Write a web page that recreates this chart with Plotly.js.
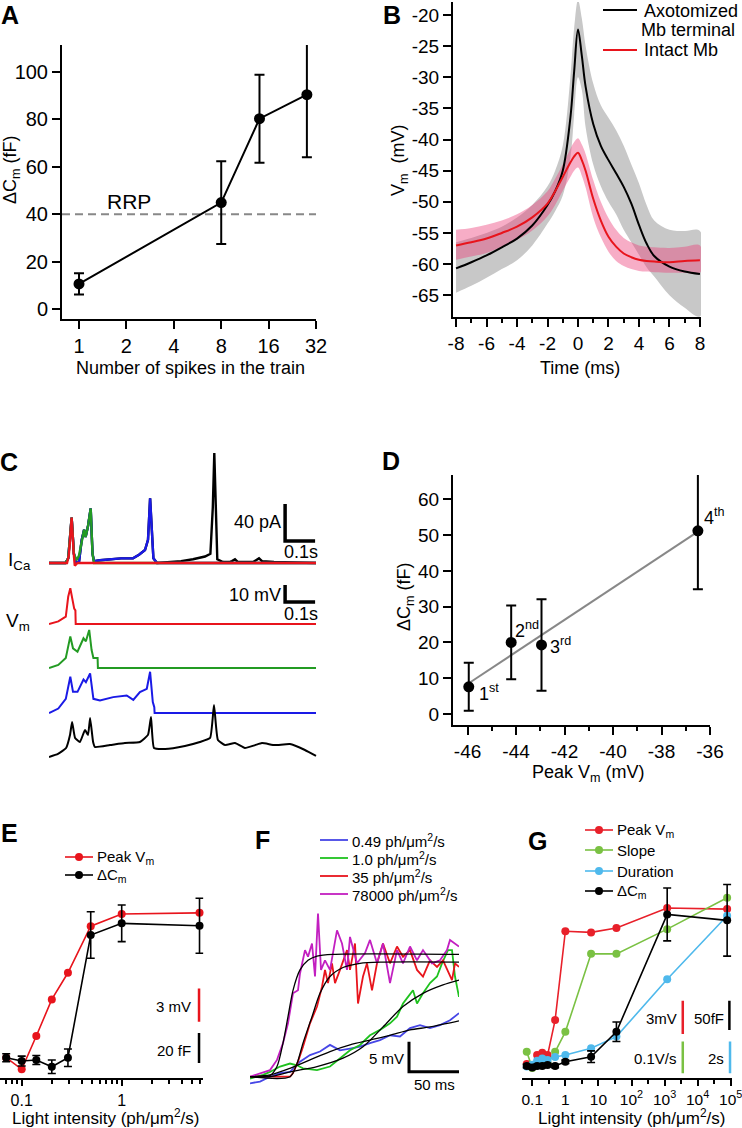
<!DOCTYPE html>
<html><head><meta charset="utf-8">
<script src="https://cdn.plot.ly/plotly-3.0.1.min.js"></script>
<style>html,body{margin:0;padding:0;background:#fff}#chart{width:742px;height:1128px}</style>
</head><body><div id="chart"></div>
<script>
// ================= DATA =================
// Panel A
const aSpikes = [1, 8, 14, 28];
const aDeltaCm = [10.7, 44.9, 80.2, 90.3];
const aDeltaCmErr = [4.5, 17.4, 18.5, 26.3];
const aRRP = 40;
const aTickVals = [1, 2, 4, 8, 16, 32];
const aTickText = ['1', '2', '4', '8', '16', '32'];
const aYTicks = [0, 20, 40, 60, 80, 100];

// Panel B (ms, mV)
const bTime = [-8,-7,-6,-5,-4,-3,-2,-1.5,-1,-0.5,-0.25,0,0.25,0.5,1,1.5,2,2.5,3,3.5,4,4.5,5,6,7,8];
const bAxoMean = [-60.7,-59.7,-58.6,-57.3,-55.9,-53.8,-50.5,-48.3,-45,-36.5,-29,-22.3,-26.5,-31.5,-37.5,-41,-43.3,-45.4,-47.6,-50.3,-53.7,-56.7,-58.7,-60.4,-61.2,-61.6];
const bAxoUpper = [-56.5,-55.8,-55,-54,-52.5,-50.5,-47.5,-45,-41,-30,-22,-17.6,-20.5,-25,-31,-34.5,-36.5,-38.5,-41,-44,-47,-50.5,-53,-54.5,-54.7,-54.7];
const bAxoLower = [-64.6,-63.5,-62.2,-60.8,-59.4,-57,-53.5,-51.5,-49,-43,-36,-30,-32,-38,-44,-47.5,-50,-52,-54.5,-56.5,-58.5,-60.5,-62,-65,-67,-68.4];
const bIntMean = [-57,-56.5,-55.9,-55,-54,-52.5,-50.3,-48.3,-46,-43.7,-42.7,-42.1,-43.3,-45,-49.5,-53,-55.6,-57.2,-58.3,-58.9,-59.3,-59.5,-59.6,-59.7,-59.5,-59.4];
const bIntUpper = [-54.5,-54.2,-53.7,-53,-52,-50.5,-48.3,-46.3,-44,-41.5,-40.4,-39.8,-40.8,-42.3,-46.5,-50,-52.6,-54.5,-55.8,-56.5,-57,-57.2,-57.3,-57.4,-57.2,-57];
const bIntLower = [-59.3,-58.8,-58.2,-57.2,-56.1,-54.6,-52.3,-50.5,-48.2,-46,-45,-44.5,-45.8,-47.7,-52.5,-55.7,-58,-59.5,-60.3,-60.8,-61.1,-61.2,-61.3,-61.4,-61.4,-61.4];
const bXTicks = [-8,-6,-4,-2,0,2,4,6,8];
const bXTickText = ['-8','-6','-4','-2','0','2','4','6','8'];
const bYTicks = [-65,-60,-55,-50,-45,-40,-35,-30,-25,-20];
const bYTickText = ['-65','-60','-55','-50','-45','-40','-35','-30','-25','-20'];

// Panel C (s, pA) calcium currents
const cIcaBlackT = [0,0.055,0.064,0.0755,0.083,0.09,0.1,0.109,0.117,0.122,0.13,0.139,0.145,0.15,0.17,0.24,0.28,0.3,0.32,0.33,0.337,0.342,0.348,0.36,0.44,0.48,0.52,0.538,0.546,0.551,0.556,0.561,0.58,0.6,0.61,0.62,0.63,0.68,0.69,0.7,0.71,0.75,0.89];
const cIcaBlack  = [0,0,5,49,10,0,1,25,36,28,40,59,10,2,3,5,5,9,14,25,70,40,5,0,2,4,7,10,60,119,50,4,1,1,2,4,1,1,3,5,2,1,0];
const cIcaBlueT = [0,0.055,0.064,0.0755,0.083,0.09,0.1,0.109,0.117,0.122,0.13,0.139,0.145,0.15,0.17,0.24,0.28,0.3,0.32,0.33,0.337,0.342,0.348,0.36,0.89];
const cIcaBlue  = [0,0,5,49,10,0,1,25,36,28,40,59,10,2,3,5,5,9,14,25,70,40,5,0,0];
const cIcaGreenT = [0,0.055,0.064,0.0755,0.083,0.092,0.1,0.109,0.117,0.122,0.13,0.139,0.145,0.15,0.89];
const cIcaGreen  = [0,0,5,49,10,3,8,25,36,28,40,59,10,0,0];
const cIcaRedT = [0,0.06,0.066,0.0755,0.082,0.086,0.095,0.89];
const cIcaRed  = [0,0,8,49,12,-3,0,0];
// Panel C (s, mV relative to trace start) voltage waveforms
const cVmRedT = [0,0.031,0.056,0.064,0.071,0.079,0.084,0.088,0.089,0.89];
const cVmRed  = [0,1.5,4.3,16,21,12,9,8,0,0];
const cVmGreenT = [0,0.031,0.056,0.071,0.08,0.095,0.115,0.123,0.134,0.142,0.148,0.162,0.163,0.89];
const cVmGreen  = [0,1.8,5.9,18.6,11.6,9.6,17.5,15.7,22.4,10.6,5.9,5.9,0,0];
const cVmBlueT = [0,0.031,0.056,0.071,0.08,0.095,0.115,0.123,0.137,0.148,0.17,0.214,0.259,0.281,0.303,0.326,0.337,0.346,0.351,0.352,0.89];
const cVmBlue  = [0,2.7,8.4,21.4,12.5,12.5,19.8,18.2,23.3,8.4,7.5,9.4,10.4,7.8,12.4,14.3,24.3,6.5,3.5,0,0];
const cVmBlackT = [0,0.03,0.057,0.07,0.077,0.087,0.103,0.12,0.13,0.137,0.147,0.153,0.203,0.253,0.303,0.33,0.34,0.35,0.387,0.453,0.503,0.537,0.55,0.563,0.587,0.62,0.653,0.687,0.71,0.753,0.803,0.853,0.89];
const cVmBlack  = [0,1.8,5.3,12.9,20.6,11.2,8.8,15.9,12.9,23,8.8,5.9,7,8.2,8.8,13,23.5,5.3,4.7,6.5,8.8,11.2,30.6,10,7,8.2,5.3,7,8.2,7,7.6,4.1,0.6];

// Panel D
const dPeakVm = [-45.95, -44.2, -42.95, -36.5];
const dDeltaCm = [7.6, 20.0, 19.3, 51.2];
const dDeltaCmErr = [6.7, 10.3, 12.8, 16.3];
const dLabels = ['1<sup>st</sup>', '2<sup>nd</sup>', '3<sup>rd</sup>', '4<sup>th</sup>'];
const dXTicks = [-46,-44,-42,-40,-38,-36];
const dXTickText = ['-46','-44','-42','-40','-38','-36'];
const dYTicks = [0,10,20,30,40,50,60];

// Panel E (light intensity ph/um2/s)
const eLight = [0.07, 0.1, 0.14, 0.2, 0.29, 0.49, 1.0, 6.0];
const ePeakVm = [1.05, 0, 3.0, 6.3, 8.7, 12.9, 14.0, 14.1];          // mV (relative)
const eDeltaCm = [11.5, 9.3, 10, 5.5, 11.5, 93.3, 101.1, 99.5];       // fF
const eDeltaCmErr = [2.7, 3.3, 3, 4.5, 5.8, 15.5, 12.2, 18.3];

// Panel F (ms, mV relative)
const fBlueT = [0,10,20,30,40,50,60,70,80,90,100,110,120,130,140,150,160,170,180,190,200,209];
const fBlue  = [-1.1,-0.8,0,0.6,0.8,2.5,3.6,4.2,5.3,4.4,4.7,5,5.6,6.1,6.9,6.7,8.1,8.6,8.1,8.6,9.4,10.6];
const fGreenT = [0,13,20,30,40,47,53,67,80,90,100,110,120,130,140,147,153,158,163,167,173,180,187,192,198,202,205,209];
const fGreen  = [-0.3,0.3,0.8,1.7,2.2,1.9,1.4,1.1,1.7,3.1,4.4,5.3,6.9,7.8,8.9,10,12.2,13.3,14.4,12.2,13.9,15.6,16.7,18.9,21.1,21.1,16.7,13.3];
const fRedT = [0,40,43,48,53,60,67,72,75,78,82,85,90,97,100,105,108,113,117,122,127,133,140,147,153,160,167,173,180,187,193,202,205,209];
const fRed  = [0,0,0.6,2.5,5,8.9,11.7,15,17.8,15.6,18.9,15.6,17.8,21.1,17.8,22.2,12.2,16.7,18.9,14.4,18.9,22.2,18.9,21.7,20,21.1,17.8,16.7,19.4,18.3,19.4,16.1,18.9,18.3];
const fMagT = [0,20,27,33,38,43,48,50,55,58,62,65,68,71,75,80,87,92,97,100,107,115,120,127,133,140,147,153,160,167,173,182,190,197,200,205,209];
const fMag  = [0,1.1,2.8,5.6,8.9,13.9,14.4,17.2,21.1,20,22.2,16.7,27.2,17.8,19.4,17.8,24.4,22.2,17.8,23.3,18.9,20.6,22.8,18.9,22.2,15.6,21.1,18.9,21.7,19.4,21.1,18.9,19.4,21.1,22.8,22.2,21.7];
const fBlueFitT = [0,20,40,60,80,100,120,140,160,180,209];
const fBlueFit  = [0,0.3,1.4,2.8,4.2,5.3,6.1,6.9,7.8,8.3,9.3];
const fGreenFitT = [0,20,40,67,93,113,133,153,173,193,209];
const fGreenFit  = [0,0,0.8,1.7,3.1,5,8.3,11.7,13.9,15.3,16.1];
const fRedFitT = [0,40,47,53,62,70,80,93,110,133,209];
const fRedFit  = [0,0,2.2,5.6,10,13.9,16.7,18.2,18.9,19.1,19.1];
const fMagFitT = [0,20,27,33,38,43,50,58,67,83,209];
const fMagFit  = [0,0.2,1.7,5.6,10,14.4,17.8,19.4,20.1,20.4,20.4];
const fLegend = ['0.49 ph/μm<sup>2</sup>/s', '1.0 ph/μm<sup>2</sup>/s', '35 ph/μm<sup>2</sup>/s', '78000 ph/μm<sup>2</sup>/s'];

// Panel G
const gLight = [0.068, 0.1, 0.14, 0.2, 0.29, 0.49, 1.0, 6.0, 35, 1200, 78000];
const gPeakVm = [0.25, 0, 1.05, 1.26, 1.05, 4.2, 12.2, 12.1, 12.5, 14.3, 14.2];      // mV
const gSlope = [0.051, 0, 0.015, 0.015, 0.015, 0.051, 0.114, 0.36, 0.36, 0.438, 0.537]; // V/s
const gDuration = [0.1, 0.2, 0.45, 0.6, 0.5, 0.7, 0.82, 1.24, 1.98, 5.6, 9.6];      // s
const gDeltaCm = [6.8, 4.5, 6.8, 6.8, 8.5, 6.8, 14.2, 22.7, 65.2, 265, 255];        // fF
const gDeltaCmErr = [3, 3, 3, 3, 3, 3, 3, 10, 16.5, 45, 61];
const gTickVals = [0.1, 1, 10, 100, 1000, 10000, 100000];
const gTickText = ['0.1', '1', '10', '10<sup>2</sup>', '10<sup>3</sup>', '10<sup>4</sup>', '10<sup>5</sup>'];

// ================= LAYOUT HELPERS =================
const W = 742, H = 1128;
const FONT = 'Liberation Sans, Arial, Helvetica, sans-serif';
const X = (a, b) => [a / W, b / W];
const Y = (top, bot) => [1 - bot / H, 1 - top / H];
const px = x => x / W, py = y => 1 - y / H;
const RED = '#e8141c', BLACK = '#000';

const axBase = (size) => ({
  showgrid: false, zeroline: false, showline: true, linecolor: '#000', linewidth: 2,
  ticks: 'outside', tickcolor: '#000', tickwidth: 2, ticklen: 8, ticklabeloverflow: 'allow',
  tickfont: {family: FONT, size: size, color: '#000'}, fixedrange: true
});
const hid = (extra) => Object.assign({visible: false, fixedrange: true, showgrid: false, zeroline: false}, extra);

const traces = [];
const lin = (x, y, xa, ya, color, width, extra) => Object.assign({
  type: 'scatter', mode: 'lines', x: x, y: y, xaxis: xa, yaxis: ya,
  line: {color: color, width: width}, hoverinfo: 'skip'
}, extra || {});

// ---- A
traces.push({type: 'scatter', x: aSpikes, y: aDeltaCm, xaxis: 'x', yaxis: 'y', mode: 'lines+markers',
  line: {color: BLACK, width: 2}, marker: {color: BLACK, size: 11}, cliponaxis: false,
  error_y: {type: 'data', array: aDeltaCmErr, visible: true, color: BLACK, thickness: 2, width: 5}});

// ---- B
const band = (t, up, lo) => ({x: t.concat(t.slice().reverse()), y: up.concat(lo.slice().reverse())});
const gb = band(bTime, bAxoUpper, bAxoLower);
traces.push(lin(gb.x, gb.y, 'x2', 'y2', 'rgba(0,0,0,0)', 0, {fill: 'toself', fillcolor: 'rgb(200,200,200)', line: {width: 0, shape: 'spline'}}));
const pb = band(bTime, bIntUpper, bIntLower);
traces.push(lin(pb.x, pb.y, 'x2', 'y2', 'rgba(0,0,0,0)', 0, {fill: 'toself', fillcolor: 'rgba(236,60,120,0.42)', line: {width: 0, shape: 'spline'}}));
traces.push(lin(bTime, bAxoMean, 'x2', 'y2', BLACK, 2, {line: {color: BLACK, width: 2, shape: 'spline'}}));
traces.push(lin(bTime, bIntMean, 'x2', 'y2', RED, 2, {line: {color: RED, width: 2, shape: 'spline'}}));

// ---- C
const C_BLUE = '#1a1ae6', C_GREEN = '#239b23';
traces.push(lin(cIcaBlackT, cIcaBlack, 'x3', 'y3', BLACK, 2.4));
traces.push(lin(cIcaBlueT, cIcaBlue, 'x3', 'y3', C_BLUE, 2.4));
traces.push(lin(cIcaGreenT, cIcaGreen, 'x3', 'y3', C_GREEN, 2.4));
traces.push(lin(cIcaRedT, cIcaRed, 'x3', 'y3', RED, 2.4));
const vmStack = [0, -25.9, -52.4, -78.2];  // vertical stacking offsets (layout)
const shift = (arr, o) => arr.map(v => v + o);
traces.push(lin(cVmRedT, shift(cVmRed, vmStack[0]), 'x4', 'y4', RED, 2));
traces.push(lin(cVmGreenT, shift(cVmGreen, vmStack[1]), 'x4', 'y4', C_GREEN, 2));
traces.push(lin(cVmBlueT, shift(cVmBlue, vmStack[2]), 'x4', 'y4', C_BLUE, 2));
traces.push(lin(cVmBlackT, shift(cVmBlack, vmStack[3]), 'x4', 'y4', BLACK, 2, {line: {color: BLACK, width: 2, shape: 'spline', smoothing: 0.4}}));

// ---- D (least-squares line through the points)
const n = dPeakVm.length;
const mx = dPeakVm.reduce((s, v) => s + v, 0) / n, my = dDeltaCm.reduce((s, v) => s + v, 0) / n;
let sxy = 0, sxx = 0;
for (let i = 0; i < n; i++) { sxy += (dPeakVm[i] - mx) * (dDeltaCm[i] - my); sxx += (dPeakVm[i] - mx) ** 2; }
const slope = sxy / sxx, icpt = my - slope * mx;
const fitX = [Math.min(...dPeakVm), Math.max(...dPeakVm)];
traces.push(lin(fitX, fitX.map(v => icpt + slope * v), 'x5', 'y5', '#888', 2));
traces.push({type: 'scatter', x: dPeakVm, y: dDeltaCm, xaxis: 'x5', yaxis: 'y5', mode: 'markers',
  marker: {color: BLACK, size: 11}, cliponaxis: false,
  error_y: {type: 'data', array: dDeltaCmErr, visible: true, color: BLACK, thickness: 2, width: 5}});

// ---- E
traces.push({type: 'scatter', x: eLight, y: ePeakVm, xaxis: 'x6', yaxis: 'y6', mode: 'lines+markers',
  line: {color: RED, width: 1.6}, marker: {color: RED, size: 8}, cliponaxis: false});
traces.push({type: 'scatter', x: eLight, y: eDeltaCm, xaxis: 'x6', yaxis: 'y7', mode: 'lines+markers',
  line: {color: BLACK, width: 1.6}, marker: {color: BLACK, size: 8}, cliponaxis: false,
  error_y: {type: 'data', array: eDeltaCmErr, visible: true, color: BLACK, thickness: 1.6, width: 4}});

// ---- F
const F_BLUE = '#4646e6', F_GREEN = '#1fc21f', F_RED = '#e8141c', F_MAG = '#c21fc0';
traces.push(lin(fBlueT, fBlue, 'x7', 'y8', F_BLUE, 1.8));
traces.push(lin(fGreenT, fGreen, 'x7', 'y8', F_GREEN, 1.8));
traces.push(lin(fRedT, fRed, 'x7', 'y8', F_RED, 1.8));
traces.push(lin(fMagT, fMag, 'x7', 'y8', F_MAG, 1.8));
[[fBlueFitT, fBlueFit], [fGreenFitT, fGreenFit], [fRedFitT, fRedFit], [fMagFitT, fMagFit]].forEach(p => {
  traces.push(lin(p[0], p[1], 'x7', 'y8', BLACK, 1.3, {line: {color: BLACK, width: 1.3, shape: 'spline', smoothing: 0.8}}));
});

// ---- G
const G_RED = '#e8202a', G_GREEN = '#7ac143', G_BLUE = '#4fb9ec';
const gSer = (y, ya, col, extra) => Object.assign({type: 'scatter', x: gLight, y: y, xaxis: 'x8', yaxis: ya,
  mode: 'lines+markers', line: {color: col, width: 1.6}, marker: {color: col, size: 8}, cliponaxis: false}, extra || {});
traces.push(gSer(gPeakVm, 'y9', G_RED));
traces.push(gSer(gSlope, 'y10', G_GREEN));
traces.push(gSer(gDuration, 'y11', G_BLUE));
traces.push(gSer(gDeltaCm, 'y12', BLACK, {error_y: {type: 'data', array: gDeltaCmErr, visible: true, color: BLACK, thickness: 1.6, width: 4}}));

// ================= SHAPES & ANNOTATIONS =================
const shapes = [];
const annotations = [];
const pline = (x0, y0, x1, y1, col, w) => shapes.push({type: 'line', xref: 'paper', yref: 'paper',
  x0: px(x0), y0: py(y0), x1: px(x1), y1: py(y1), line: {color: col, width: w}});
const pdot = (cx, cy, col) => shapes.push({type: 'circle', xref: 'paper', yref: 'paper', xsizemode: 'pixel', ysizemode: 'pixel',
  xanchor: px(cx), yanchor: py(cy), x0: -4, x1: 4, y0: -4, y1: 4, fillcolor: col, line: {width: 0}});
const ann = (text, x, y, size, xanchor, extra) => annotations.push(Object.assign({text: text, xref: 'paper', yref: 'paper',
  x: px(x), y: py(y), xanchor: xanchor || 'center', yanchor: 'middle', showarrow: false,
  font: {family: FONT, size: size, color: '#000'}}, extra || {}));

// RRP dashed line (A)
shapes.push({type: 'line', xref: 'x domain', yref: 'y', x0: 0, x1: 1, y0: aRRP, y1: aRRP, layer: 'below',
  line: {color: '#888', width: 2, dash: '8px,5px'}});
ann('RRP', 129, 201, 21);

// scale bars as L-shaped paths in data units
const Lbar = (xr, yr, x0, x1, y0, y1, col, w) => shapes.push({type: 'path', xref: xr, yref: yr,
  path: `M ${x0},${y1} L ${x0},${y0} L ${x1},${y0}`, line: {color: col, width: w}});
const Vbar = (xr, yr, x, y0, y1, col, w) => shapes.push({type: 'line', xref: xr, yref: yr, x0: x, x1: x, y0: y0, y1: y1, line: {color: col, width: w}});
Lbar('x3', 'y3', 0.787, 0.887, 23.8, 63.8, BLACK, 3.5);
Lbar('x4', 'y4', 0.787, 0.887, 12.9, 22.9, BLACK, 3.5);
Lbar('x7', 'y8', 159, 209, 0.83, 5.83, BLACK, 3);
Vbar('x6 domain', 'y6', 0.979, 4.29, 7.29, RED, 2.5);
Vbar('x6 domain', 'y7', 0.979, 8, 28, BLACK, 2.5);
Vbar('x8 domain', 'y9', 0.767, 2.95, 5.95, G_RED, 2.5);
Vbar('x8 domain', 'y12', 0.989, 68.1, 118.1, BLACK, 2.5);
Vbar('x8 domain', 'y10', 0.767, -0.0167, 0.0833, G_GREEN, 2.5);
Vbar('x8 domain', 'y11', 0.992, -0.334, 1.666, G_BLUE, 2.5);

// panel letters
[['A', 10, 15], ['B', 392, 15], ['C', 9, 462], ['D', 391, 461], ['E', 9, 833], ['F', 262, 840], ['G', 537, 841]]
  .forEach(l => ann('<b>' + l[0] + '</b>', l[1], l[2], 25));

// axis titles
ann('ΔC<sub>m</sub> (fF)', 12, 170, 18, 'center', {textangle: -90});
ann('Number of spikes in the train', 190, 368, 18);
ann('V<sub>m</sub>  (mV)', 400, 160, 18, 'center', {textangle: -90});
ann('Time (ms)', 580, 368, 18);
ann('ΔC<sub>m</sub> (fF)', 405, 597, 18, 'center', {textangle: -90});
ann('Peak V<sub>m</sub> (mV)', 588, 773, 18);
ann('Light intensity (ph/μm<sup>2</sup>/s)', 105, 1117, 17);
ann('Light intensity (ph/μm<sup>2</sup>/s)', 631, 1117, 17);

// B legend
pline(603, 10, 637, 10, BLACK, 2);
ann('Axotomized', 642, 11, 18, 'left');
ann('Mb terminal', 639, 30, 18, 'left');
pline(603, 50, 637, 50, RED, 2);
ann('Intact Mb', 642, 50, 18, 'left');

// C labels
ann('I<sub>Ca</sub>', 6, 561, 19, 'left');
ann('V<sub>m</sub>', 4, 622, 19, 'left');
ann('40 pA', 283, 522, 18, 'right');
ann('0.1s', 301, 552, 18);
ann('10 mV', 283, 595, 18, 'right');
ann('0.1s', 301, 614, 18);

// D ordinal labels
const dShift = [[8, -6], [2, 13], [6, -1], [4, 14]];
dLabels.forEach((t, i) => annotations.push({text: t, xref: 'x5', yref: 'y5', x: dPeakVm[i], y: dDeltaCm[i],
  xanchor: 'left', yanchor: 'middle', xshift: dShift[i][0], yshift: dShift[i][1], showarrow: false,
  font: {family: FONT, size: 18, color: '#000'}}));

// E legend + scale labels
pline(65, 857, 93, 857, RED, 1.6); pdot(79, 857, RED);
ann('Peak V<sub>m</sub>', 95, 857, 15, 'left');
pline(65, 875, 93, 875, BLACK, 1.6); pdot(79, 875, BLACK);
ann('ΔC<sub>m</sub>', 95, 875, 15, 'left');
ann('3 mV', 193, 1006, 15, 'right');
ann('20 fF', 193, 1050, 15, 'right');

// F legend + scale labels
[[840, F_BLUE], [858, F_GREEN], [876, F_RED], [894, F_MAG]].forEach((r, i) => {
  pline(320, r[0], 348, r[0], r[1], 1.8);
  ann(fLegend[i], 350, r[0], 15, 'left');
});
ann('5 mV', 406, 1058, 15, 'right');
ann('50 ms', 434, 1084, 15);

// G legend + scale labels
const gLeg = [['Peak V<sub>m</sub>', G_RED, 830], ['Slope', G_GREEN, 850], ['Duration', G_BLUE, 871], ['ΔC<sub>m</sub>', BLACK, 891]];
gLeg.forEach(r => { pline(585, r[2], 613, r[2], r[1], 1.6); pdot(599, r[2], r[1]); ann(r[0], 615, r[2], 15, 'left'); });
ann('3mV', 679, 1018, 15, 'right');
ann('50fF', 726, 1018, 15, 'right');
ann('0.1V/s', 679, 1058, 15, 'right');
ann('2s', 726, 1058, 15, 'right');

// ================= LAYOUT =================
const layout = {
  width: W, height: H, margin: {l: 0, r: 0, t: 0, b: 0, pad: 0},
  paper_bgcolor: '#fff', plot_bgcolor: 'rgba(0,0,0,0)', showlegend: false,
  font: {family: FONT, color: '#000'},
  // A
  xaxis: Object.assign(axBase(20), {domain: X(62, 316), anchor: 'y', type: 'log', range: [-0.108, 1.505],
    tickmode: 'array', tickvals: aTickVals, ticktext: aTickText}),
  yaxis: Object.assign(axBase(20), {domain: Y(45, 319.3), anchor: 'x', range: [-4.2, 111.2],
    tickmode: 'array', tickvals: aYTicks}),
  // B
  xaxis2: Object.assign(axBase(19), {domain: X(453, 701), anchor: 'y2', range: [-8.2, 8.07],
    tickmode: 'array', tickvals: bXTicks, ticktext: bXTickText,
    minor: {tickmode: 'array', tickvals: [-7,-5,-3,-1,1,3,5,7], ticklen: 4, tickwidth: 2, tickcolor: '#000', ticks: 'outside'}}),
  yaxis2: Object.assign(axBase(19), {domain: Y(2, 317), anchor: 'x2', range: [-68.5, -17.9],
    tickmode: 'array', tickvals: bYTicks, ticktext: bYTickText}),
  // C
  xaxis3: hid({domain: X(49, 319), anchor: 'y3', range: [0, 0.9]}),
  yaxis3: hid({domain: Y(445, 575), anchor: 'x3', range: [-13, 127.6]}),
  xaxis4: hid({domain: X(49, 319), anchor: 'y4', range: [0, 0.9]}),
  yaxis4: hid({domain: Y(575, 765), anchor: 'x4', range: [-82.9, 28.8]}),
  // D
  xaxis5: Object.assign(axBase(19), {domain: X(453, 710), anchor: 'y5', range: [-46.6, -36],
    tickmode: 'array', tickvals: dXTicks, ticktext: dXTickText,
    minor: {tickmode: 'array', tickvals: [-45,-43,-41,-39,-37], ticklen: 4, tickwidth: 2, tickcolor: '#000', ticks: 'outside'}}),
  yaxis5: Object.assign(axBase(19), {domain: Y(475, 725), anchor: 'x5', range: [-3.07, 66.8],
    tickmode: 'array', tickvals: dYTicks}),
  // E
  xaxis6: Object.assign(axBase(16), {domain: X(0, 203.3), anchor: 'y6', type: 'log', range: [-1.217, 0.816],
    tickmode: 'array', tickvals: [0.1, 1], ticktext: ['0.1', '1'], ticklen: 6,
    minor: {tickmode: 'array', tickvals: [0.07,0.08,0.09,0.2,0.3,0.4,0.5,0.6,0.7,0.8,0.9,2,3,4,5,6], ticklen: 4, tickwidth: 2, tickcolor: '#000', ticks: 'outside'}}),
  yaxis6: hid({domain: Y(880, 1078.3), anchor: 'x6', range: [-0.81, 17.06]}),
  yaxis7: hid({overlaying: 'y6', anchor: 'x6', range: [-2.2, 130]}),
  // F
  xaxis7: hid({domain: X(250, 459), anchor: 'y8', range: [0, 209]}),
  yaxis8: hid({domain: Y(900, 1088), anchor: 'x7', range: [-1.88, 29.45]}),
  // G
  xaxis8: Object.assign(axBase(15.5), {domain: X(521.7, 731.7), anchor: 'y9', type: 'log', range: [-1.32, 5.03],
    tickmode: 'array', tickvals: gTickVals, ticktext: gTickText, ticklen: 6,
    minor: {tickmode: 'array', tickvals: [0.316, 3.16, 31.6, 316, 3162, 31623], ticklen: 4, tickwidth: 2, tickcolor: '#000', ticks: 'outside'}}),
  yaxis9: hid({domain: Y(880, 1078.3), anchor: 'x8', range: [-1.045, 16.82]}),
  yaxis10: hid({overlaying: 'y9', anchor: 'x8', range: [-0.0325, 0.593]}),
  yaxis11: hid({overlaying: 'y9', anchor: 'x8', range: [-0.65, 11.86]}),
  yaxis12: hid({overlaying: 'y9', anchor: 'x8', range: [-14.1, 323.7]}),
  shapes: shapes,
  annotations: annotations
};

Plotly.newPlot('chart', traces, layout, {staticPlot: true, displayModeBar: false});
</script>
</body></html>
